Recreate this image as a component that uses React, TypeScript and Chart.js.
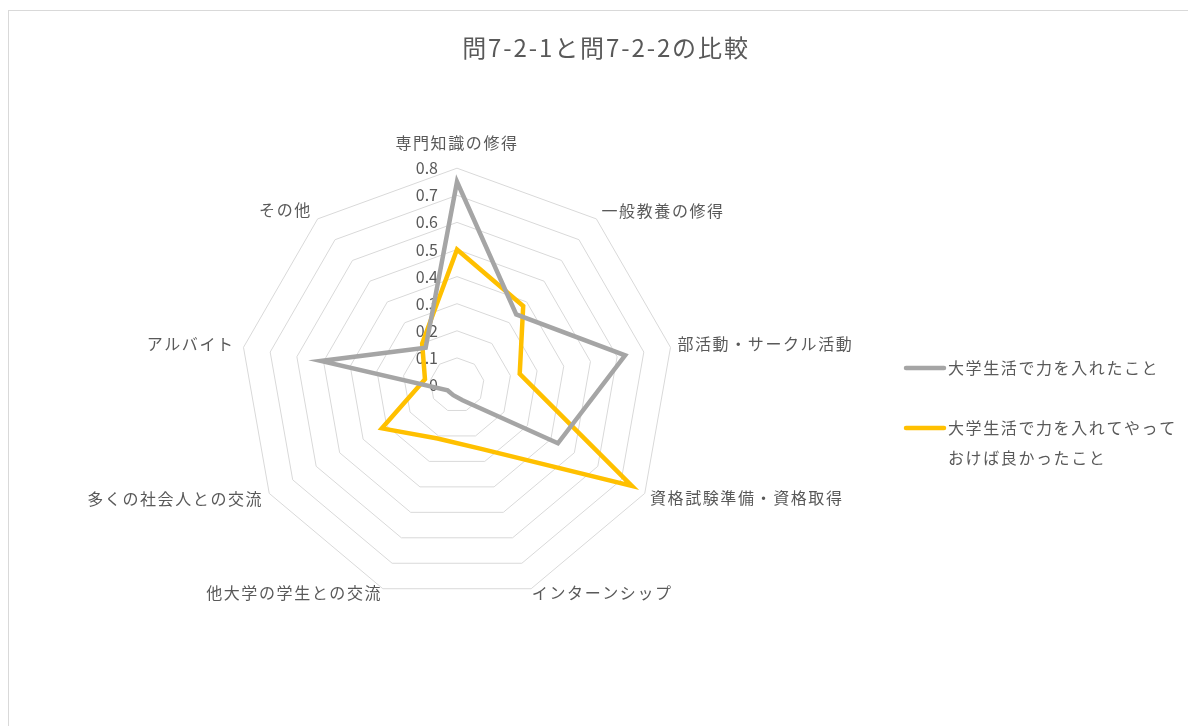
import React, { useEffect, useRef } from "react";
import { Chart, registerables } from "chart.js";

Chart.register(...registerables);

const titleText = "問7-2-1と問7-2-2の比較";
const categories = [
  "専門知識の修得",
  "一般教養の修得",
  "部活動・サークル活動",
  "資格試験準備・資格取得",
  "インターンシップ",
  "他大学の学生との交流",
  "多くの社会人との交流",
  "アルバイト",
  "その他",
];
const seriesNames = [
  "大学生活で力を入れたこと",
  "大学生活で力を入れてやっておけば良かったこと",
];
const legendLines = [
  ["大学生活で力を入れたこと"],
  ["大学生活で力を入れてやって", "おけば良かったこと"],
];
const effortValues = [0.75, 0.34, 0.63, 0.43, 0.06, 0.04, 0.04, 0.51, 0.18];
const wishValues = [0.5, 0.38, 0.235, 0.745, 0.25, 0.21, 0.32, 0.12, 0.2];
const tickLabels = ["0", "0.1", "0.2", "0.3", "0.4", "0.5", "0.6", "0.7", "0.8"];
const seriesColors = ["#A5A5A5", "#FFC000"];

const FONT = '"Noto Sans CJK JP", "Noto Sans", sans-serif';
const TEXT_COLOR = "#595959";
const labelPad = [16, 8, 7, 6, 2, 2, 7, 9, 9];
const labelLineHeight = [1.2, 0.25, 0.25, 0.25, 0.25, 0.25, 0.25, 0.25, 0.25];

const spacingPlugin = {
  id: "spacing",
  beforeLayout(chart: any) {
    chart.ctx.letterSpacing = "1.6px";
  },
  beforeDraw(chart: any) {
    chart.ctx.letterSpacing = "1.6px";
  },
};

const decorPlugin = {
  id: "decor",
  beforeDatasetsDraw(chart: any) {
    const ctx = chart.ctx;
    const scale = chart.scales.r;
    ctx.save();
    ctx.letterSpacing = "0px";
    ctx.font = `16px ${FONT}`;
    ctx.fillStyle = TEXT_COLOR;
    ctx.textAlign = "right";
    ctx.textBaseline = "middle";
    scale.ticks.forEach((t: any, i: number) => {
      const d = scale.getDistanceFromCenterForValue(t.value);
      ctx.fillText(tickLabels[i] ?? String(t.value), scale.xCenter - 19, scale.yCenter - d);
    });
    ctx.restore();
  },
  afterDraw(chart: any) {
    const ctx = chart.ctx;
    ctx.save();
    // title
    ctx.letterSpacing = "1.9px";
    ctx.font = `24px ${FONT}`;
    ctx.fillStyle = TEXT_COLOR;
    ctx.textAlign = "center";
    ctx.textBaseline = "middle";
    ctx.fillText(titleText, 606, 48);
    // legend
    ctx.letterSpacing = "1.6px";
    ctx.font = `16px ${FONT}`;
    ctx.textAlign = "left";
    const starts = [368, 428];
    legendLines.forEach((lines, i) => {
      const y = starts[i];
      ctx.strokeStyle = seriesColors[i];
      ctx.lineWidth = 4.5;
      ctx.lineCap = "round";
      ctx.beginPath();
      ctx.moveTo(906, y);
      ctx.lineTo(944, y);
      ctx.stroke();
      ctx.fillStyle = TEXT_COLOR;
      lines.forEach((ln, j) => {
        ctx.fillText(ln, 948, y + j * 30);
      });
    });
    ctx.restore();
  },
};

export default function App() {
  const ref = useRef<HTMLCanvasElement | null>(null);

  useEffect(() => {
    if (!ref.current) return;
    const chart = new Chart(ref.current, {
      type: "radar",
      data: {
        labels: categories,
        datasets: [
          {
            label: seriesNames[0],
            data: effortValues,
            borderColor: seriesColors[0],
            backgroundColor: "rgba(0,0,0,0)",
            borderWidth: 4.5,
            pointRadius: 0,
            pointHoverRadius: 0,
            fill: false,
          },
          {
            label: seriesNames[1],
            data: wishValues,
            borderColor: seriesColors[1],
            backgroundColor: "rgba(0,0,0,0)",
            borderWidth: 4.5,
            pointRadius: 0,
            pointHoverRadius: 0,
            fill: false,
          },
        ],
      },
      options: {
        responsive: false,
        animation: false,
        layout: { padding: { left: 10, right: 284, top: 116, bottom: 105 } },
        plugins: {
          legend: { display: false },
          title: { display: false },
          tooltip: { enabled: false },
        },
        elements: { line: { tension: 0, borderJoinStyle: "miter" } },
        scales: {
          r: {
            min: 0,
            max: 0.8,
            ticks: { stepSize: 0.1, display: false },
            grid: { color: "#d9d9d9", lineWidth: 1 },
            angleLines: { display: false },
            pointLabels: {
              color: TEXT_COLOR,
              font: (c: any) => ({
                size: 16,
                family: FONT,
                lineHeight: labelLineHeight[c.index] ?? 1.2,
              }),
              padding: (c: any) => labelPad[c.index] ?? 6,
            },
          },
        },
      },
      plugins: [spacingPlugin, decorPlugin],
    } as any);
    return () => chart.destroy();
  }, []);

  return (
    <div
      style={{
        position: "absolute",
        left: 0,
        top: 0,
        width: 1188,
        height: 726,
        overflow: "hidden",
        background: "#fff",
      }}
    >
      <div
        style={{
          position: "absolute",
          left: 8,
          top: 10,
          width: 1200,
          height: 800,
          borderTop: "1px solid #d9d9d9",
          borderLeft: "1px solid #d9d9d9",
        }}
      />
      <canvas
        ref={ref}
        width={1188}
        height={726}
        style={{ position: "absolute", left: 0, top: 0, width: 1188, height: 726 }}
      />
    </div>
  );
}
